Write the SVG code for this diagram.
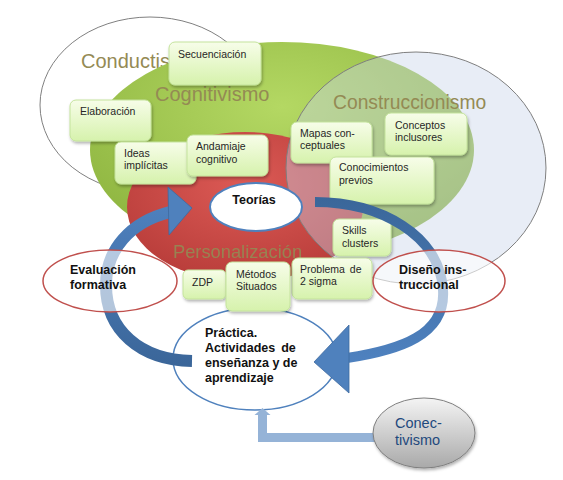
<svg xmlns="http://www.w3.org/2000/svg" width="563" height="480" viewBox="0 0 563 480">
<style>
.box{fill:url(#boxg);stroke:#c4e39c;stroke-width:1;filter:url(#sh)}
.bt{font-family:"Liberation Sans",Arial,sans-serif;font-size:10.5px;fill:#262626}
.big{font-family:"Liberation Sans",Arial,sans-serif;font-size:20px;fill:#948a54}
.bold{font-family:"Liberation Sans",Arial,sans-serif;font-size:12.5px;font-weight:bold;fill:#111}
</style>
<defs>
<linearGradient id="boxg" x1="0" y1="0" x2="0" y2="1">
<stop offset="0" stop-color="#f7fde9"/><stop offset="1" stop-color="#d6f2ac"/>
</linearGradient>
<radialGradient id="greeng" cx="0.5" cy="0.3" r="0.7">
<stop offset="0" stop-color="#b4d863"/><stop offset="1" stop-color="#8db43f"/>
</radialGradient>
<radialGradient id="redg" cx="0.5" cy="0.35" r="0.7">
<stop offset="0" stop-color="#dc5a55"/><stop offset="1" stop-color="#b63b38"/>
</radialGradient>
<linearGradient id="grayg" x1="0" y1="0" x2="0" y2="1">
<stop offset="0" stop-color="#f4f4f4"/><stop offset="1" stop-color="#a9a9a9"/>
</linearGradient>
<linearGradient id="leftArr" gradientUnits="userSpaceOnUse" x1="0" y1="195" x2="0" y2="370">
<stop offset="0" stop-color="#4f82c0"/><stop offset="1" stop-color="#3a6598"/>
</linearGradient>
<linearGradient id="rightArr" gradientUnits="userSpaceOnUse" x1="0" y1="195" x2="0" y2="365">
<stop offset="0" stop-color="#3a6699"/><stop offset="1" stop-color="#4f82c0"/>
</linearGradient>
<filter id="sh" x="-20%" y="-20%" width="140%" height="150%">
<feDropShadow dx="1" dy="2" stdDeviation="1.5" flood-color="#000" flood-opacity="0.3"/>
</filter>
</defs>

<g id="conductismo">
<ellipse cx="150" cy="105" rx="110" ry="88" fill="#fff" stroke="#808080" stroke-width="1"/>
<text class="big" x="81" y="68">Conductismo</text>
</g>
<g id="cognitivismo">
<ellipse cx="282" cy="150" rx="192" ry="108" fill="url(#greeng)"/>
<text class="big" x="155" y="101">Cognitivismo</text>
</g>
<g id="personalizacion">
<ellipse cx="245" cy="207" rx="118" ry="75" fill="url(#redg)"/>
</g>
<g id="construccionismo">
<ellipse cx="416" cy="168" rx="130" ry="116" fill="#c8d5ea" fill-opacity="0.42" stroke="#7f7f7f" stroke-width="1"/>
<text class="big" x="333" y="109" style="font-size:19.3px">Construccionismo</text>
</g>
<text class="big" x="173" y="258" style="font-size:18.3px" opacity="0.9">Personalización</text>

<g id="practica">
<ellipse cx="255" cy="359" rx="82" ry="51" fill="#fff" stroke="#4f81bd" stroke-width="1.5"/>
<text class="bold" x="205" y="337">Práctica.</text>
<text class="bold" x="205" y="352" word-spacing="2.5">Actividades de</text>
<text class="bold" x="205" y="367">enseñanza y de</text>
<text class="bold" x="205" y="382">aprendizaje</text>
</g>

<g id="secuenciacion"><rect class="box" x="169" y="42" width="92" height="43" rx="6"/><text class="bt" x="178" y="58">Secuenciación</text></g>
<g id="elaboracion"><rect class="box" x="70" y="100" width="81" height="41" rx="6"/><text class="bt" x="80" y="115">Elaboración</text></g>
<g id="ideas"><rect class="box" x="115" y="142" width="81" height="42" rx="6"/><text class="bt" x="124" y="157">Ideas</text><text class="bt" x="124" y="169">implícitas</text></g>
<g id="andamiaje"><rect class="box" x="187" y="135" width="81" height="41" rx="6"/><text class="bt" x="196" y="150">Andamiaje</text><text class="bt" x="196" y="163">cognitivo</text></g>
<g id="mapas"><rect class="box" x="291" y="122" width="81" height="41" rx="6"/><text class="bt" x="300" y="137">Mapas con-</text><text class="bt" x="300" y="149">ceptuales</text></g>
<g id="conceptos"><rect class="box" x="385" y="113" width="82" height="42" rx="6"/><text class="bt" x="395" y="129">Conceptos</text><text class="bt" x="395" y="141">inclusores</text></g>
<g id="conocimientos"><rect class="box" x="330" y="157" width="104" height="47" rx="6"/><text class="bt" x="339" y="171">Conocimientos</text><text class="bt" x="339" y="184">previos</text></g>
<g id="skills"><rect class="box" x="333" y="219" width="58" height="37" rx="6"/><text class="bt" x="342" y="234">Skills</text><text class="bt" x="342" y="247">clusters</text></g>
<g id="problema"><rect class="box" x="292" y="258" width="80" height="41" rx="6"/><text class="bt" x="300" y="273" word-spacing="2">Problema de</text><text class="bt" x="300" y="285">2 sigma</text></g>
<g id="zdp"><rect class="box" x="183" y="270" width="43" height="29" rx="5"/><text class="bt" x="192" y="286">ZDP</text></g>
<g id="metodos"><rect class="box" x="226" y="262" width="64" height="49" rx="6"/><text class="bt" x="236" y="278">Métodos</text><text class="bt" x="236" y="290">Situados</text></g>

<g id="connectors">
<path d="M192,361 C140,360 106,330 106,285 C106,250 130,222 170,212" fill="none" stroke="url(#leftArr)" stroke-width="12"/>
<polygon points="168,187 192,208 169,235" fill="#4f81bd" stroke="#3d6a9f" stroke-width="0.8"/>
<path d="M315,202 C380,202 440,235 443,290 C446,335 400,350 347,358" fill="none" stroke="url(#rightArr)" stroke-width="10"/>
<polygon points="349,325 314,362 349,393" fill="#4f81bd" stroke="#3d6a9f" stroke-width="0.8"/>
<path d="M375,437.5 H262.5 V414" fill="none" stroke="#95b3d7" stroke-width="9"/>
<polygon points="254.5,415 270.5,415 262.5,408" fill="#95b3d7"/>
</g>

<g id="evaluacion">
<ellipse cx="110" cy="281" rx="67" ry="31" fill="#fff" fill-opacity="0.6" stroke="#c0504d" stroke-width="1.5"/>
<text class="bold" x="70" y="274">Evaluación</text>
<text class="bold" x="70" y="289">formativa</text>
</g>
<g id="diseno">
<ellipse cx="439" cy="281" rx="66" ry="31" fill="#fff" fill-opacity="0.6" stroke="#c0504d" stroke-width="1.5"/>
<text class="bold" x="399" y="274">Diseño ins-</text>
<text class="bold" x="399" y="289">truccional</text>
</g>
<g id="teorias">
<ellipse cx="256" cy="207" rx="46" ry="24" fill="#fff" stroke="#4f81bd" stroke-width="2"/>
<text class="bold" x="254" y="204" text-anchor="middle">Teorías</text>
</g>
<g id="conectivismo">
<ellipse cx="424" cy="433" rx="51" ry="35" fill="url(#grayg)" stroke="#7f7f7f" stroke-width="1" filter="url(#sh)"/>
<text x="395" y="428" font-family="Liberation Sans, Arial, sans-serif" font-size="14.5" fill="#1f497d">Conec-</text>
<text x="395" y="445" font-family="Liberation Sans, Arial, sans-serif" font-size="14.5" fill="#1f497d">tivismo</text>
</g>
</svg>
